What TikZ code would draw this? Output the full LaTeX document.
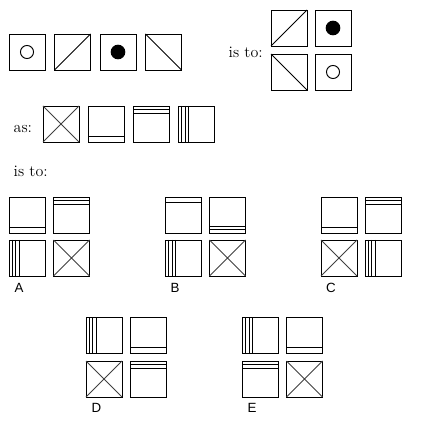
\documentclass[tikz,border=0pt]{standalone}
\usepackage{fontspec}
\newfontfamily\optfont{Liberation Sans}
\usetikzlibrary{math}

\begin{document}
\begin{tikzpicture}[x=0.75pt,y=-0.75pt,
 tile/.style={line width=0.7pt},
 word/.style={anchor=base west, font=\fontsize{12}{14}\selectfont},
 optlabel/.style={anchor=base west, font=\optfont\fontsize{10}{12}\selectfont},
 frame/.pic={\draw[tile] (0,0) rectangle (\w,\w);},
 ocirc/.pic={\draw[tile] (0,0) rectangle (\w,\w);
   \draw[tile] (\w/2,\w/2) circle[radius=4.9pt];},
 fcirc/.pic={\draw[tile] (0,0) rectangle (\w,\w);
   \fill (\w/2,\w/2) circle[radius=5.5pt];},
 slash/.pic={\draw[tile] (0,0) rectangle (\w,\w);
   \draw[tile] (0,\w) -- (\w,0);},
 bslash/.pic={\draw[tile] (0,0) rectangle (\w,\w);
   \draw[tile] (0,0) -- (\w,\w);},
 cross/.pic={\draw[tile] (0,0) rectangle (\w,\w);
   \draw[tile,black!75] (0,0) -- (\w,\w) (0,\w) -- (\w,0);},
 lowone/.pic={\draw[tile] (0,0) rectangle (\w,\w);
   \draw[tile] (0,\w-5.7) -- (\w,\w-5.7);},
 topone/.pic={\draw[tile] (0,0) rectangle (\w,\w);
   \draw[tile] (0,5.2) -- (\w,5.2);},
 toptwo/.pic={\draw[tile] (0,0) rectangle (\w,\w);
   \draw[tile] (0,3.4) -- (\w,3.4) (0,7) -- (\w,7);},
 lowtwo/.pic={\draw[tile] (0,0) rectangle (\w,\w);
   \draw[tile] (0,\w-3.4) -- (\w,\w-3.4) (0,\w-7) -- (\w,\w-7);},
 vthree/.pic={\draw[tile] (0,0) rectangle (\w,\w);
   \draw[tile] (3.4,0) -- (3.4,\w) (6.8,0) -- (6.8,\w) (10.2,0) -- (10.2,\w);}
]
\tikzmath{
\w=36;
}
\useasboundingbox (0,0) rectangle (438,427);

 %first row:
 \pic (r1a) at (9,34) {ocirc};
 \pic (r1b) at (54.5,34) {slash};
 \pic (r1c) at (100,34) {fcirc};
 \pic (r1d) at (145.5,34) {bslash};
 \node[word] (isto1) at (224,58) {is to:};
 \pic (g1a) at (271,10) {slash};
 \pic (g1b) at (315,10) {fcirc};
 \pic (g1c) at (271,54) {bslash};
 \pic (g1d) at (315,54) {ocirc};

 %second row:
 \node[word] (as) at (9,133) {as:};
 \pic (r2a) at (43,106) {cross};
 \pic (r2b) at (88,106) {lowone};
 \pic (r2c) at (133,106) {toptwo};
 \pic (r2d) at (178.5,106) {vthree};
 \node[word] (isto2) at (9,177) {is to:};

 %options:
 \pic (oA1) at (9,197) {lowone};
 \pic (oA2) at (53.5,197) {toptwo};
 \pic (oA3) at (9,240) {vthree};
 \pic (oA4) at (53.5,240) {cross};
 \node[optlabel] (labA) at (10,292) {A};

 \pic (oB1) at (165.5,197) {topone};
 \pic (oB2) at (209.5,197) {lowtwo};
 \pic (oB3) at (165.5,240) {vthree};
 \pic (oB4) at (209.5,240) {cross};
 \node[optlabel] (labB) at (166,292) {B};

 \pic (oC1) at (321,197) {lowone};
 \pic (oC2) at (365,197) {toptwo};
 \pic (oC3) at (321,240) {cross};
 \pic (oC4) at (365,240) {vthree};
 \node[optlabel] (labC) at (321.5,292) {C};

 \pic (oD1) at (86,317.5) {vthree};
 \pic (oD2) at (130,317.5) {lowone};
 \pic (oD3) at (86,361) {cross};
 \pic (oD4) at (130,361) {toptwo};
 \node[optlabel] (labD) at (87,412) {D};

 \pic (oE1) at (242.5,317.5) {vthree};
 \pic (oE2) at (286.5,317.5) {lowone};
 \pic (oE3) at (242.5,361) {toptwo};
 \pic (oE4) at (286.5,361) {cross};
 \node[optlabel] (labE) at (243,412) {E};

\end{tikzpicture}
\end{document}
